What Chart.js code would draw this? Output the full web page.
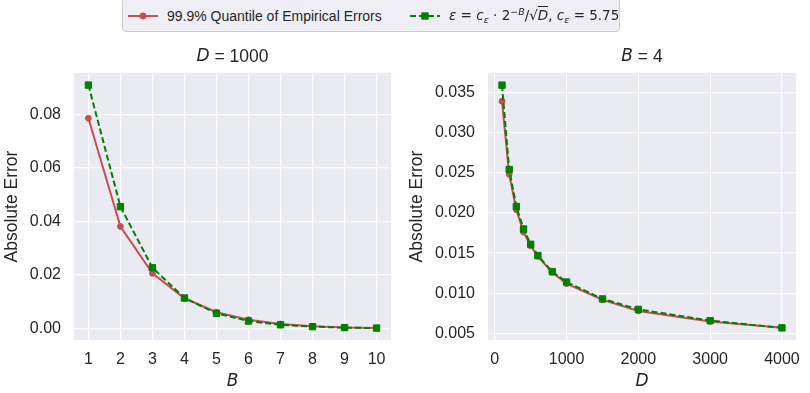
<!DOCTYPE html>
<html><head><meta charset="utf-8">
<script src="https://cdn.jsdelivr.net/npm/chart.js@4"></script>
<style>
body{margin:0;background:#fff;width:810px;height:393px;overflow:hidden;position:relative;font-family:"Liberation Sans",Arial,sans-serif;color:#262626;}
canvas{position:absolute;top:0}
#c1{left:0}
#c2{left:405px}
#legend{position:absolute;left:122px;top:-2px;width:498px;height:34px;box-sizing:border-box;border:1px solid #cccccc;border-radius:4px;background:#eeeef4;z-index:2}
#legend svg{position:absolute;top:11px}
#legend .t{position:absolute;top:9px;font-size:14px;line-height:16px;white-space:nowrap}
#legend .m{font-family:"DejaVu Sans",sans-serif;font-size:13.5px;top:8px}
#legend .m sub,#legend .m sup{font-size:70%;line-height:0;position:relative;vertical-align:baseline}
#legend .m sub{top:0.3em}
#legend .m sup{top:-0.55em}
.ov{border-top:1px solid #262626;padding-top:0px}
</style>
</head><body>
<div id="legend">
  <svg width="30" height="12" style="left:5px"><line x1="0" y1="6" x2="30" y2="6" stroke="#C44E52" stroke-width="2"/><circle cx="15" cy="6" r="3.4" fill="#C44E52"/></svg>
  <div class="t" style="left:44px">99.9% Quantile of Empirical Errors</div>
  <svg width="30" height="12" style="left:287px"><line x1="0" y1="6" x2="30" y2="6" stroke="#008000" stroke-width="2" stroke-dasharray="6 3"/><rect x="11.3" y="2.3" width="7.4" height="7.4" fill="#008000"/></svg>
  <div class="t m" style="left:326px"><i>ε</i> = <i>c</i><sub><i>ε</i></sub> · 2<sup>−<i>B</i></sup>/√<span class="ov"><i>D</i></span>, <i>c</i><sub><i>ε</i></sub> = 5.75</div>
</div>
<canvas id="c1" width="405" height="393"></canvas>
<canvas id="c2" width="405" height="393"></canvas>
<script>
// ---- data ----
const B_VALUES = [1, 2, 3, 4, 5, 6, 7, 8, 9, 10];
const EMP_ERR_D1000 = [0.0785, 0.0381, 0.0206, 0.0113, 0.0061, 0.0033, 0.0017, 0.0009, 0.0004, 0.0002];
const BOUND_D1000 = [0.0909, 0.0455, 0.0227, 0.0114, 0.0057, 0.0028, 0.0014, 0.0007, 0.00036, 0.00018];
const D_VALUES = [100, 200, 300, 400, 500, 600, 800, 1000, 1500, 2000, 3000, 4000];
const EMP_ERR_B4 = [0.0339, 0.0248, 0.0204, 0.0176, 0.0159, 0.0146, 0.0126, 0.0112, 0.0092, 0.0078, 0.0065, 0.0057];
const BOUND_B4 = [0.0359, 0.0254, 0.0208, 0.0180, 0.0161, 0.0147, 0.0127, 0.0114, 0.0093, 0.0080, 0.0066, 0.0057];
const LEFT_X_TICKS = [1, 2, 3, 4, 5, 6, 7, 8, 9, 10];
const LEFT_Y_TICKS = [0.00, 0.02, 0.04, 0.06, 0.08];
const RIGHT_X_TICKS = [0, 1000, 2000, 3000, 4000];
const RIGHT_Y_TICKS = [0.005, 0.010, 0.015, 0.020, 0.025, 0.030, 0.035];
const LEGEND_LABELS = ['99.9% Quantile of Empirical Errors', 'ε = c_ε · 2^{−B}/√D, c_ε = 5.75'];

const RED = '#C44E52', GREEN = '#008000', TXT = '#262626';
const TICK_FONT = {family: '"Liberation Sans", Arial, sans-serif', size: 16};
const LABEL_FONT = {family: '"Liberation Sans", Arial, sans-serif', size: 17.5};

const bgPlugin = {
  id: 'bg',
  beforeDraw(chart) {
    const {ctx, chartArea: a} = chart;
    ctx.save();
    ctx.fillStyle = '#EAEAF2';
    ctx.fillRect(a.left, a.top, a.right - a.left, a.bottom - a.top);
    ctx.restore();
  }
};
const titlePlugin = {
  id: 'mtitle',
  afterDraw(chart, args, opts) {
    const {ctx, chartArea: a} = chart;
    const parts = opts.parts;
    ctx.save();
    ctx.fillStyle = TXT;
    ctx.textBaseline = 'middle';
    let total = 0;
    const fonts = parts.map(p => p.italic ? 'italic 17px "DejaVu Sans"' : '17.5px "Liberation Sans"');
    parts.forEach((p, i) => { ctx.font = fonts[i]; total += ctx.measureText(p.text).width; });
    let x = (a.left + a.right) / 2 - total / 2;
    parts.forEach((p, i) => {
      ctx.font = fonts[i];
      ctx.fillText(p.text, x, 57);
      x += ctx.measureText(p.text).width;
    });
    ctx.restore();
  }
};

function make(canvasId, xs, emp, bound, xMin, xMax, xTicks, yMin, yMax, yTicks, yDec, yWidth, padRight, titleParts, xLabel) {
  const toPts = arr => xs.map((x, i) => ({x: x, y: arr[i]}));
  return new Chart(document.getElementById(canvasId), {
    type: 'line',
    data: {
      datasets: [
        {label: LEGEND_LABELS[1], data: toPts(bound), borderColor: GREEN, backgroundColor: GREEN,
         borderWidth: 2, borderDash: [6, 3], pointStyle: 'rect', pointRadius: 4.5, pointBorderWidth: 1,
         pointBackgroundColor: GREEN, pointBorderColor: GREEN, tension: 0, order: 0},
        {label: LEGEND_LABELS[0], data: toPts(emp), borderColor: RED, backgroundColor: RED,
         borderWidth: 2, pointStyle: 'circle', pointRadius: 2.9, pointBorderWidth: 1,
         pointBackgroundColor: RED, pointBorderColor: RED, tension: 0, order: 1}
      ]
    },
    options: {
      responsive: false, animation: false, devicePixelRatio: 1,
      layout: {padding: {top: 73, left: 0, right: padRight, bottom: 0}},
      plugins: {legend: {display: false}, tooltip: {enabled: false}, mtitle: {parts: titleParts}},
      scales: {
        x: {
          type: 'linear', min: xMin, max: xMax,
          afterBuildTicks: s => { s.ticks = xTicks.map(v => ({value: v})); },
          afterFit: s => { s.height = 53; },
          ticks: {font: TICK_FONT, color: TXT, padding: 10, maxRotation: 0, autoSkip: false, callback: v => String(v)},
          grid: {color: '#ffffff', lineWidth: 1.3, drawTicks: false},
          border: {display: false},
          title: {display: true, text: xLabel, color: TXT, font: {family: '"DejaVu Sans"', size: 17, style: 'italic'}, padding: {top: 0, bottom: 1}}
        },
        y: {
          type: 'linear', min: yMin, max: yMax,
          afterBuildTicks: s => { s.ticks = yTicks.map(v => ({value: v})); },
          afterFit: s => { s.width = yWidth; },
          ticks: {font: TICK_FONT, color: TXT, padding: 13, autoSkip: false, callback: v => Number(v).toFixed(yDec)},
          grid: {color: '#ffffff', lineWidth: 1.3, drawTicks: false},
          border: {display: false},
          title: {display: true, text: 'Absolute Error', color: TXT, font: LABEL_FONT, padding: {top: 2, bottom: 0}}
        }
      }
    },
    plugins: [bgPlugin, titlePlugin]
  });
}

make('c1', B_VALUES, EMP_ERR_D1000, BOUND_D1000, 0.55, 10.45, LEFT_X_TICKS, -0.00427, 0.0954, LEFT_Y_TICKS, 2, 74, 14,
     [{text: 'D', italic: true}, {text: ' = 1000', italic: false}], 'B');
make('c2', D_VALUES, EMP_ERR_B4, BOUND_B4, -95, 4195, RIGHT_X_TICKS, 0.00419, 0.03741, RIGHT_Y_TICKS, 3, 83, 6,
     [{text: 'B', italic: true}, {text: ' = 4', italic: false}], 'D');
</script>
</body></html>
